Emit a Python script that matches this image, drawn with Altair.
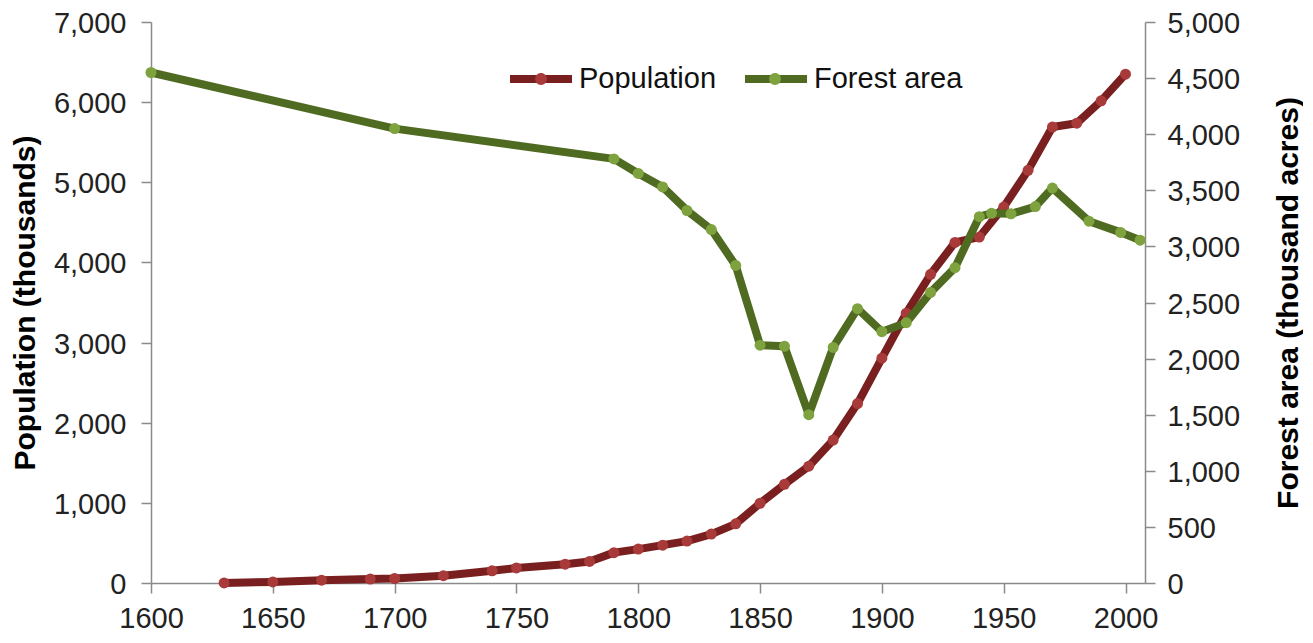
import altair as alt
import pandas as pd

# ---- data ----
pop_years = [1630, 1650, 1670, 1690, 1700, 1720, 1740, 1750, 1770, 1780,
             1790, 1800, 1810, 1820, 1830, 1840, 1850, 1860, 1870, 1880,
             1890, 1900, 1910, 1920, 1930, 1940, 1950, 1960, 1970, 1980,
             1990, 2000]
pop_values = [0.5, 14, 35, 50, 56, 91, 152, 188, 235, 269,
              379, 423, 472, 523, 610, 738, 995, 1231, 1457, 1783,
              2239, 2805, 3366, 3852, 4250, 4317, 4691, 5149, 5689, 5737,
              6016, 6349]

forest_years = [1600, 1700, 1790, 1800, 1810, 1820, 1830, 1840, 1850, 1860,
                1870, 1880, 1890, 1900, 1910, 1920, 1930, 1940, 1945, 1953,
                1963, 1970, 1985, 1998, 2006]
forest_values = [4550, 4050, 3780, 3650, 3530, 3320, 3150, 2830, 2120, 2110,
                 1500, 2100, 2445, 2240, 2320, 2590, 2810, 3265, 3295, 3290,
                 3355, 3520, 3225, 3125, 3055]

series_names = ["Population", "Forest area"]
marker_names = [s + "*" for s in series_names]   # separate domain -> separate legend
line_colors = ["#7a1f1f", "#4f6b22"]
marker_colors = ["#a83a3a", "#7ea23e"]

x_ticks = [1600, 1650, 1700, 1750, 1800, 1850, 1900, 1950, 2000]
pop_ticks = [0, 1000, 2000, 3000, 4000, 5000, 6000, 7000]
forest_ticks = [0, 500, 1000, 1500, 2000, 2500, 3000, 3500, 4000, 4500, 5000]

pop_df = pd.DataFrame({"year": pop_years, "value": pop_values})
pop_df["series"] = series_names[0]
pop_df["marker"] = marker_names[0]
forest_df = pd.DataFrame({"year": forest_years, "value": forest_values})
forest_df["series"] = series_names[1]
forest_df["marker"] = marker_names[1]

FONT = "Liberation Sans"
LABEL_SIZE = 29
AXIS_GRAY = "#8a8a8a"
LINE_PATH = "M-1,0H1"
DOT_PATH = "M0.19,0A0.19,0.19,0,1,1,-0.19,0A0.19,0.19,0,1,1,0.19,0Z"

base_legend = dict(
    orient="none", direction="horizontal", columns=2, title=None,
    symbolSize=3844, labelFontSize=LABEL_SIZE, labelFont=FONT,
    labelColor="#111111", padding=0,
)

x_enc = alt.X(
    "year:Q",
    scale=alt.Scale(domain=[1600, 2008], nice=False, zero=False),
    axis=alt.Axis(values=x_ticks, format="d", title=None, grid=False,
                  labelFontSize=LABEL_SIZE, labelFont=FONT, labelColor="#222222",
                  labelPadding=11, tickSize=10, tickColor=AXIS_GRAY,
                  domainColor=AXIS_GRAY, domainWidth=1.5, tickWidth=1.5,
                  labelOverlap=False, labelFlush=False),
)

color_enc = alt.Color(
    "series:N",
    scale=alt.Scale(domain=series_names, range=line_colors),
    legend=alt.Legend(symbolType=LINE_PATH, symbolStrokeWidth=8,
                      legendX=355, legendY=22, labelOffset=3, columnPadding=12,
                      **base_legend),
)
fill_enc = alt.Fill(
    "marker:N",
    scale=alt.Scale(domain=marker_names, range=marker_colors),
    legend=alt.Legend(symbolType=DOT_PATH, symbolStrokeWidth=0, labelExpr="''",
                      legendX=359, legendY=26, labelOffset=0, columnPadding=172,
                      **base_legend),
)

axis_common = dict(
    grid=False, labelFontSize=LABEL_SIZE, labelFont=FONT, labelColor="#222222",
    tickSize=10, tickColor=AXIS_GRAY, domainColor=AXIS_GRAY, domainWidth=1.5,
    tickWidth=1.5, titleFontSize=30, titleFont=FONT, titleFontWeight="bold",
    titleColor="#000000", format=",.0f", labelOffset=1.5,
)

y_pop = alt.Y(
    "value:Q",
    scale=alt.Scale(domain=[0, 7000], nice=False),
    axis=alt.Axis(values=pop_ticks, title="Population (thousands)", orient="left",
                  labelPadding=15, titlePadding=13, **axis_common),
)
y_forest = alt.Y(
    "value:Q",
    scale=alt.Scale(domain=[0, 5000], nice=False),
    axis=alt.Axis(values=forest_ticks, title="Forest area (thousand acres)",
                  orient="right", labelPadding=12, titlePadding=64, titleAngle=270,
                  **axis_common),
)

pop_line = alt.Chart(pop_df).mark_line(strokeWidth=8, strokeJoin="round").encode(
    x=x_enc, y=y_pop, color=color_enc)
pop_pts = alt.Chart(pop_df).mark_point(filled=True, size=121, opacity=1, strokeWidth=0).encode(
    x=x_enc, y=y_pop, fill=fill_enc)
forest_line = alt.Chart(forest_df).mark_line(strokeWidth=8, strokeJoin="round").encode(
    x=x_enc, y=y_forest, color=color_enc)
forest_pts = alt.Chart(forest_df).mark_point(filled=True, size=121, opacity=1, strokeWidth=0).encode(
    x=x_enc, y=y_forest, fill=fill_enc)

pop_layer = alt.layer(pop_line, pop_pts)
forest_layer = alt.layer(forest_line, forest_pts)

chart = alt.layer(pop_layer, forest_layer).resolve_scale(y="independent").properties(
    width=994, height=561,
    autosize=alt.AutoSizeParams(type="none"),
    padding={"left": 143, "top": 14, "right": 158, "bottom": 52},
    background="white",
).configure_view(stroke=None)

chart.save("out.html", embed_options={"renderer": "svg", "actions": False})
